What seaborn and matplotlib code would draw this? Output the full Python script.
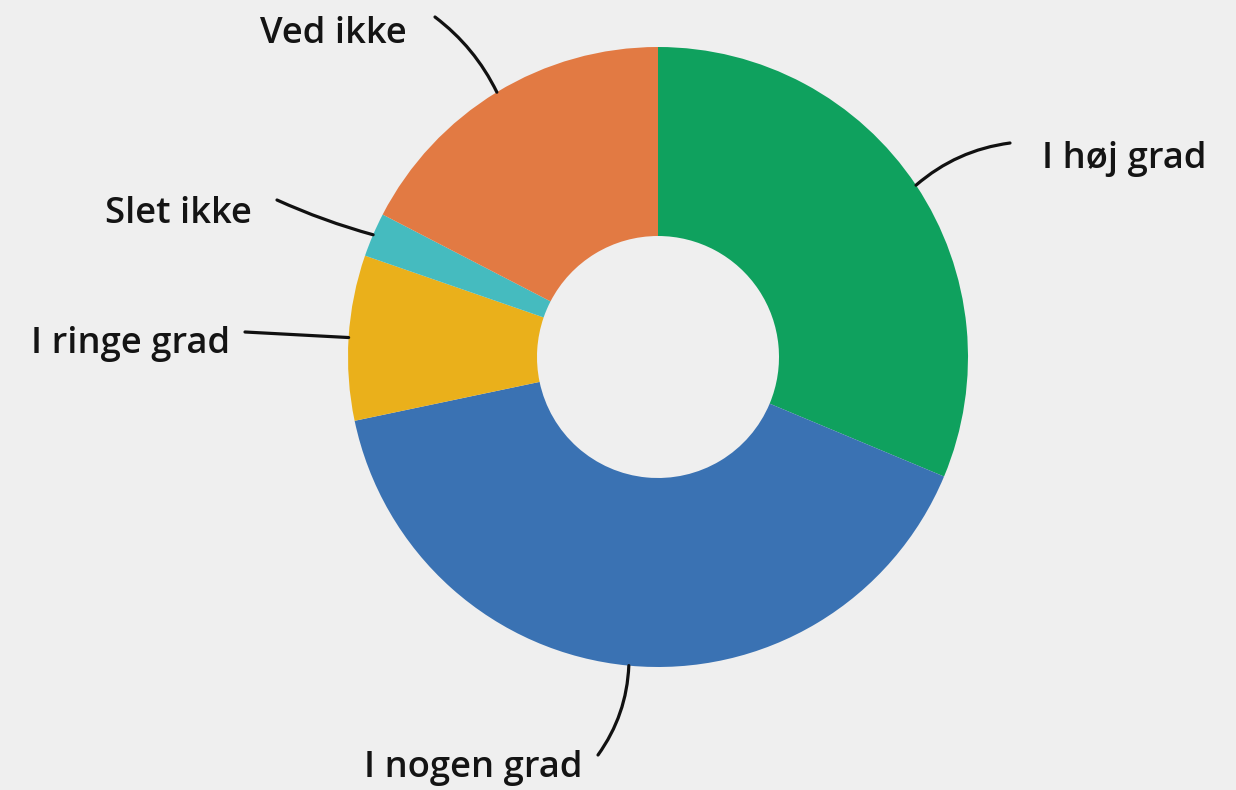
import numpy as np
import matplotlib
matplotlib.use("Agg")
import matplotlib.pyplot as plt
import seaborn as sns

# Survey answers, clockwise from 12 o'clock
categories = ["I høj grad", "I nogen grad", "I ringe grad", "Slet ikke", "Ved ikke"]
shares = [31.3, 40.4, 8.6, 2.3, 17.4]
colors = ["#0fa15e", "#3a72b3", "#eab01b", "#45bbbf", "#e27a43"]

sns.set_theme(style="white")
plt.rcParams["font.family"] = ["Open Sans", "DejaVu Sans"]

W, H = 1236, 790
bg = "#efefef"
fig = plt.figure(figsize=(W / 100, H / 100), dpi=100, facecolor=bg)
ax = fig.add_axes([0, 0, 1, 1])
ax.set_facecolor(bg)

cx, cy = 658, H - 357
r_out, r_in = 310, 121

wedges, _ = ax.pie(
    shares, colors=sns.color_palette(colors), startangle=90, counterclock=False,
    center=(cx, cy), radius=r_out,
    wedgeprops=dict(width=r_out - r_in, linewidth=0),
)
ax.set_xlim(0, W)
ax.set_ylim(0, H)
ax.set_aspect("equal")
ax.axis("off")

# label text anchor (x, baseline y in pixels from top), alignment,
# leader start (pixels from top), curvature
label_layout = {
    "I høj grad":   ((1042, 168), "left",  (1010, 143), 0.15),
    "I nogen grad": ((582, 777),  "right", (598, 755), 0.15),
    "I ringe grad": ((230, 353),  "right", (245, 332), 0.0),
    "Slet ikke":    ((252, 223),  "right", (277, 200), 0.04),
    "Ved ikke":     ((407, 43),   "right", (435, 17), -0.12),
}

for w, name in zip(wedges, categories):
    (tx, ty), ha, (sx, sy), rad = label_layout[name]
    ax.text(tx, H - ty, name, ha=ha, va="baseline", fontsize=26.2,
            fontweight="semibold", color="#141414")
    mid = np.deg2rad((w.theta1 + w.theta2) / 2)
    ex, ey = cx + r_out * np.cos(mid), cy + r_out * np.sin(mid)
    ax.annotate("", xy=(ex, ey), xytext=(sx, H - sy),
                arrowprops=dict(arrowstyle="-", color="#111111", lw=2.3,
                                shrinkA=0, shrinkB=0,
                                connectionstyle=f"arc3,rad={rad}"))

fig.savefig("out.png", dpi=100, facecolor=bg)
